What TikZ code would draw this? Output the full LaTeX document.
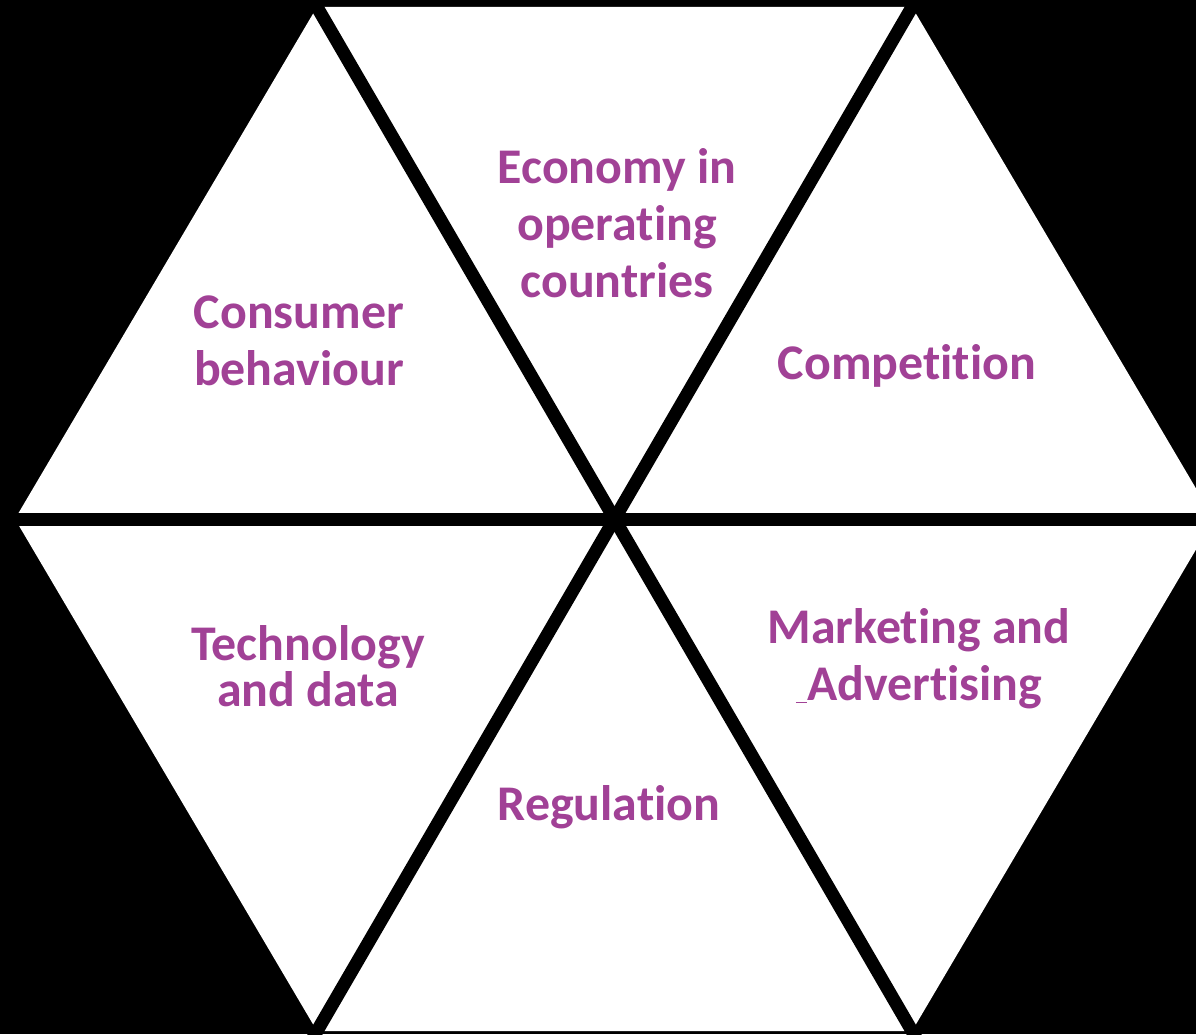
\documentclass[tikz,border=0pt]{standalone}
\usepackage{fontspec}
\setmainfont{Carlito}[Ligatures=NoCommon]
\usetikzlibrary{calc}

\definecolor{factorpurple}{RGB}{161,65,150}

\tikzset{
  factor/.style={text=factorpurple, align=center, anchor=base,
    font=\bfseries\fontsize{28.4pt}{32.3pt}\selectfont},
  tightlines/.style={font=\bfseries\fontsize{28.4pt}{24.4pt}\selectfont},
  spoke/.style={line width=0.26cm}
}

\begin{document}
\begin{tikzpicture}[x=0.02cm,y=-0.02cm]

  \useasboundingbox (0,0) rectangle (1196,1034);
  \fill[black] (0,0) rectangle (1196,1034);
  \clip (0,0) rectangle (1196,1034);

  % hexagon corners, the right one falls off the page
  \coordinate (o)  at (614.5,519);
  \coordinate (w)  at (15,519);
  \coordinate (nw) at (317,7);
  \coordinate (ne) at (912,7);
  \coordinate (e)  at (1214,519);
  \coordinate (se) at (912,1031);
  \coordinate (sw) at (317,1031);

  \fill[white] (w) -- (nw) -- (ne) -- (e) -- (se) -- (sw) -- cycle;

  % three black spokes cut it into six triangles
  \foreach \a/\b in {w/e,nw/se,ne/sw}{
    \draw[spoke] ($(\a)!-0.05!(\b)$) -- ($(\b)!-0.05!(\a)$);
  }

  % labels sit on the baseline of their last line
  \node[factor] (economy)     at (617,297) {Economy in\\operating\\countries};
  \node[factor] (consumer)    at (299,385) {Consumer\\behaviour};
  \node[factor] (competition) at (907,379) {Competition};
  \node[factor,tightlines] (technology) at (308,706) {Technology\\and data};
  \node[factor] (marketing)   at (919,700) {Marketing and\\\underline{\ }Advertising};
  \node[factor] (regulation)  at (609,820) {Regulation};

\end{tikzpicture}
\end{document}
